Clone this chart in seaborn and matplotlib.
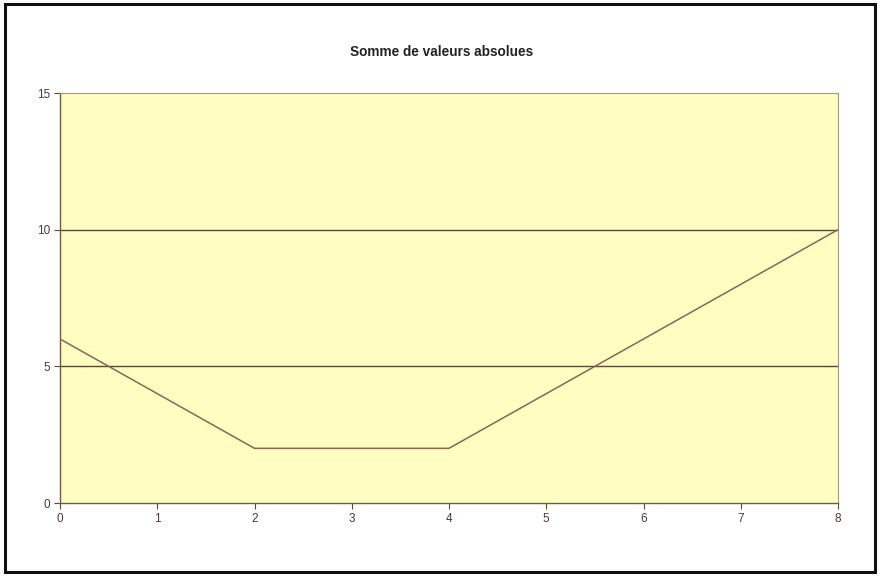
import matplotlib
matplotlib.use("Agg")
import matplotlib.pyplot as plt
from matplotlib.patches import Rectangle
import seaborn as sns
import pandas as pd

x_values = [0, 1, 2, 3, 4, 5, 6, 7, 8]
y_values = [6, 4, 2, 2, 2, 4, 6, 8, 10]
x_ticks = [0, 1, 2, 3, 4, 5, 6, 7, 8]
y_ticks = [0, 5, 10, 15]
title = "Somme de valeurs absolues"

sns.set_theme(style="white")
plt.rcParams["font.family"] = ["Liberation Sans", "DejaVu Sans"]

W, H = 881, 576
fig = plt.figure(figsize=(W / 100, H / 100), dpi=100)
fig.patch.set_facecolor("white")

left, right, top, bottom = 60, 838, 93, 503
ax = fig.add_axes([left / W, 1 - bottom / H, (right - left) / W, (bottom - top) / H])
ax.set_facecolor("#FFFDC2")

df = pd.DataFrame({"x": x_values, "y": y_values})
sns.lineplot(data=df, x="x", y="y", ax=ax, color="#8C6450", linewidth=1.1, zorder=3)

ax.set_xlim(0, 8)
ax.set_ylim(0, 15)
ax.set_xticks(x_ticks)
ax.set_yticks(y_ticks)
for gy in y_ticks[1:-1]:
    ax.axhline(gy, color="#5A4A30", linewidth=1.0, zorder=2)

ax.set_xlabel("")
ax.set_ylabel("")
for side in ["left", "bottom"]:
    ax.spines[side].set_color("#6E5A44")
    ax.spines[side].set_linewidth(1.0)
for side in ["top", "right"]:
    ax.spines[side].set_color("#A09880")
    ax.spines[side].set_linewidth(0.8)

ax.tick_params(axis="both", which="major", direction="out", length=4, width=0.8,
               color="#5A4A30", labelsize=8.5, labelcolor="#4A3A30", pad=3,
               bottom=True, left=True)

fig.text(441.5 / W, 1 - 52 / H, title, ha="center", va="center",
         fontsize=9.8, fontweight="bold", color="#222222")

# outer chart frame
fig.patches.append(Rectangle((5 / W, 4 / H), (875 - 5) / W, (572 - 4) / H,
                             transform=fig.transFigure, fill=False,
                             edgecolor="#111111", linewidth=2.2))

fig.savefig("out.png", dpi=100)
